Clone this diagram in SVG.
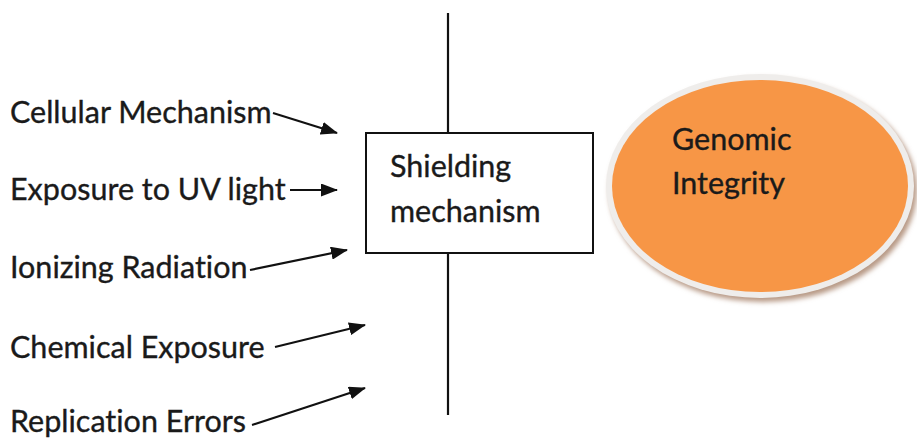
<svg xmlns="http://www.w3.org/2000/svg" width="917" height="439" viewBox="0 0 917 439">
<defs>
<style>
.lbl{font-family:Lato,"Open Sans","Liberation Sans",sans-serif;font-size:30.5px;fill:#1a1a1a;stroke:#1a1a1a;stroke-width:0.35px;font-variant-ligatures:none;font-feature-settings:"liga" 0}
.ln{stroke:#111;stroke-width:2.2;fill:none}
</style>
<marker id="ah" viewBox="0 0 17 13" refX="16" refY="6.5" markerWidth="17" markerHeight="13" markerUnits="userSpaceOnUse" orient="auto">
<path d="M0,0 L17,6.5 L0,13 z" fill="#111"/>
</marker>
<filter id="sh" x="-10%" y="-10%" width="120%" height="120%"><feGaussianBlur stdDeviation="2.5"/></filter>
</defs>
<rect width="917" height="439" fill="#fff"/>
<g id="connectors">
<line class="ln" x1="448" y1="13" x2="448" y2="133"/>
<line class="ln" x1="448" y1="253" x2="448" y2="415"/>
<line class="ln" x1="273" y1="113" x2="337" y2="133" marker-end="url(#ah)"/>
<line class="ln" x1="290" y1="190" x2="337" y2="190" marker-end="url(#ah)"/>
<line class="ln" x1="250" y1="270" x2="347" y2="250" marker-end="url(#ah)"/>
<line class="ln" x1="275" y1="347" x2="365" y2="325" marker-end="url(#ah)"/>
<line class="ln" x1="252" y1="425" x2="365" y2="388" marker-end="url(#ah)"/>
</g>
<g id="labels">
<text class="lbl" x="10" y="123">Cellular Mechanism</text>
<text class="lbl" x="10" y="200">Exposure to UV light</text>
<text class="lbl" x="10" y="278">Ionizing Radiation</text>
<text class="lbl" x="10" y="358">Chemical Exposure</text>
<text class="lbl" x="10" y="432">Replication Errors</text>
</g>
<g id="shielding">
<rect x="366" y="133" width="227" height="120" fill="#fff" stroke="#111" stroke-width="2"/>
<text class="lbl" x="390" y="177">Shielding</text>
<text class="lbl" x="390" y="222">mechanism</text>
</g>
<g id="genomic">
<ellipse cx="763" cy="190" rx="154" ry="112" fill="#b89a86" filter="url(#sh)"/>
<ellipse cx="760" cy="186" rx="154" ry="112" fill="#efedeb"/>
<ellipse cx="760" cy="186" rx="148" ry="106" fill="#f79646"/>
<text class="lbl" x="672" y="150">Genomic</text>
<text class="lbl" x="672" y="194">Integrity</text>
</g>
</svg>
